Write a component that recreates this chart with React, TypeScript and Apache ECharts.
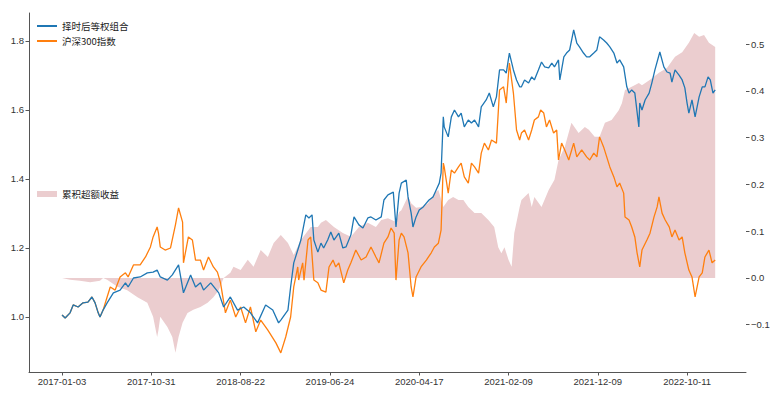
import React, { useEffect, useRef } from "react";
import * as echarts from "echarts";

const tickLabels = ["2017-01-03", "2017-10-31", "2018-08-22", "2019-06-24", "2020-04-17", "2021-02-09", "2021-12-09", "2022-10-11"];
const tickDays = [0, 200, 400, 600, 800, 1000, 1200, 1400];
const leftTicks = [1.0, 1.2, 1.4, 1.6, 1.8];
const rightTicks = [-0.1, 0, 0.1, 0.2, 0.3, 0.4, 0.5];

const seriesNames = ["择时后等权组合", "沪深300指数", "累积超额收益"];

// [trading day index, net value]
const blueSeries: [number, number][] = [
  [0, 1.006], [7, 0.997], [18, 1.012], [25, 1.035], [36, 1.029], [47, 1.041], [58, 1.043], [67, 1.058],
  [74, 1.041], [81, 1.012], [85, 1.0], [92, 1.02], [101, 1.041], [115, 1.07], [130, 1.078], [142, 1.099],
  [148, 1.087], [160, 1.113], [175, 1.116], [191, 1.128], [204, 1.13], [213, 1.136], [220, 1.116], [236, 1.107],
  [247, 1.122], [261, 1.151], [272, 1.07], [288, 1.122], [299, 1.087], [310, 1.099], [317, 1.078], [333, 1.099],
  [351, 1.07], [362, 1.029], [377, 1.058], [393, 1.02], [407, 1.029], [422, 1.012], [438, 0.983], [456, 1.035],
  [472, 1.02], [485, 0.983], [490, 0.991], [506, 1.02], [512, 1.087], [519, 1.157], [528, 1.194], [535, 1.223],
  [546, 1.296], [553, 1.287], [560, 1.296], [564, 1.223], [573, 1.188], [580, 1.214], [586, 1.2], [595, 1.223],
  [602, 1.246], [609, 1.223], [620, 1.243], [629, 1.2], [636, 1.203], [647, 1.238], [654, 1.29], [665, 1.267],
  [674, 1.258], [685, 1.287], [692, 1.29], [703, 1.281], [715, 1.29], [721, 1.339], [730, 1.354], [742, 1.362],
  [748, 1.261], [755, 1.359], [760, 1.388], [771, 1.397], [775, 1.348], [782, 1.301], [786, 1.261], [793, 1.29],
  [800, 1.31], [809, 1.319], [816, 1.33], [822, 1.339], [831, 1.348], [838, 1.368], [845, 1.388], [849, 1.417],
  [854, 1.58], [856, 1.551], [865, 1.522], [872, 1.58], [879, 1.6], [888, 1.58], [894, 1.591], [901, 1.551],
  [910, 1.571], [917, 1.562], [924, 1.571], [933, 1.551], [939, 1.609], [950, 1.629], [957, 1.649], [966, 1.609],
  [973, 1.638], [980, 1.716], [989, 1.716], [995, 1.707], [1002, 1.765], [1011, 1.716], [1018, 1.687], [1025, 1.667],
  [1029, 1.667], [1036, 1.687], [1045, 1.678], [1052, 1.696], [1058, 1.687], [1067, 1.716], [1074, 1.739], [1081, 1.725],
  [1090, 1.722], [1097, 1.736], [1103, 1.725], [1112, 1.745], [1115, 1.687], [1124, 1.754], [1130, 1.765], [1137, 1.774],
  [1146, 1.832], [1153, 1.794], [1159, 1.783], [1168, 1.765], [1175, 1.754], [1182, 1.754], [1191, 1.765], [1198, 1.774],
  [1204, 1.812], [1213, 1.803], [1220, 1.794], [1227, 1.783], [1236, 1.765], [1243, 1.736], [1249, 1.745], [1258, 1.725],
  [1265, 1.667], [1270, 1.649], [1276, 1.658], [1283, 1.649], [1292, 1.551], [1294, 1.62], [1299, 1.6], [1306, 1.629],
  [1315, 1.649], [1321, 1.678], [1328, 1.716], [1339, 1.768], [1348, 1.725], [1355, 1.71], [1362, 1.707], [1366, 1.681],
  [1373, 1.716], [1382, 1.701], [1389, 1.687], [1395, 1.664], [1400, 1.62], [1404, 1.591], [1411, 1.629], [1418, 1.58],
  [1427, 1.638], [1434, 1.667], [1440, 1.667], [1447, 1.696], [1452, 1.687], [1458, 1.649], [1463, 1.658],
];

const orangeSeries: [number, number][] = [
  [0, 1.006], [7, 0.997], [18, 1.012], [25, 1.035], [36, 1.029], [47, 1.041], [58, 1.043], [67, 1.058],
  [74, 1.041], [81, 1.012], [85, 1.0], [92, 1.02], [101, 1.058], [108, 1.087], [119, 1.078], [130, 1.116],
  [142, 1.128], [148, 1.116], [160, 1.151], [175, 1.151], [187, 1.174], [198, 1.203], [204, 1.232], [213, 1.261],
  [216, 1.243], [220, 1.203], [231, 1.194], [243, 1.2], [254, 1.267], [261, 1.316], [270, 1.275], [272, 1.157],
  [283, 1.232], [292, 1.223], [299, 1.165], [310, 1.165], [317, 1.136], [328, 1.174], [339, 1.145], [348, 1.13],
  [355, 1.099], [366, 1.012], [377, 1.049], [389, 1.0], [400, 1.029], [411, 0.983], [422, 1.029], [434, 0.957],
  [445, 0.991], [461, 0.962], [479, 0.925], [490, 0.896], [501, 0.942], [512, 1.0], [519, 1.087], [528, 1.145],
  [530, 1.107], [539, 1.157], [542, 1.107], [551, 1.223], [557, 1.232], [564, 1.107], [573, 1.099], [580, 1.078],
  [591, 1.072], [598, 1.145], [607, 1.165], [613, 1.145], [620, 1.157], [631, 1.099], [640, 1.136], [647, 1.157],
  [658, 1.194], [670, 1.165], [681, 1.174], [692, 1.203], [703, 1.174], [710, 1.157], [721, 1.214], [730, 1.232],
  [737, 1.258], [744, 1.243], [748, 1.107], [755, 1.223], [760, 1.243], [766, 1.232], [775, 1.186], [782, 1.087],
  [786, 1.058], [793, 1.116], [804, 1.145], [816, 1.165], [827, 1.186], [834, 1.203], [843, 1.214], [849, 1.252],
  [854, 1.446], [856, 1.435], [865, 1.359], [872, 1.426], [879, 1.417], [888, 1.435], [894, 1.446], [901, 1.406],
  [910, 1.388], [917, 1.446], [924, 1.435], [933, 1.417], [939, 1.475], [946, 1.504], [955, 1.484], [962, 1.513],
  [973, 1.504], [980, 1.658], [989, 1.667], [995, 1.62], [1002, 1.736], [1011, 1.649], [1018, 1.542], [1025, 1.513],
  [1029, 1.533], [1036, 1.542], [1045, 1.513], [1052, 1.542], [1058, 1.571], [1067, 1.58], [1072, 1.6], [1079, 1.591],
  [1085, 1.551], [1092, 1.571], [1101, 1.533], [1108, 1.542], [1112, 1.455], [1119, 1.504], [1126, 1.484], [1135, 1.455],
  [1146, 1.504], [1153, 1.464], [1164, 1.484], [1175, 1.464], [1182, 1.455], [1191, 1.475], [1198, 1.464], [1204, 1.522],
  [1213, 1.493], [1220, 1.464], [1227, 1.435], [1236, 1.406], [1243, 1.377], [1249, 1.388], [1258, 1.359], [1261, 1.29],
  [1270, 1.281], [1276, 1.261], [1283, 1.232], [1288, 1.186], [1294, 1.145], [1299, 1.194], [1310, 1.223], [1317, 1.243],
  [1326, 1.29], [1333, 1.319], [1337, 1.348], [1344, 1.301], [1351, 1.281], [1360, 1.261], [1366, 1.232], [1373, 1.252],
  [1382, 1.223], [1389, 1.232], [1395, 1.186], [1404, 1.136], [1411, 1.116], [1418, 1.058], [1427, 1.116], [1434, 1.128],
  [1440, 1.174], [1449, 1.194], [1456, 1.157], [1463, 1.165],
];

const excessSeries: [number, number][] = [
  [0, 0], [18, -0.004], [40, -0.006], [63, -0.009], [85, -0.006], [92, 0], [101, -0.004], [124, -0.019],
  [146, -0.026], [169, -0.041], [191, -0.053], [204, -0.083], [213, -0.126], [216, -0.111], [220, -0.083], [236, -0.105],
  [247, -0.126], [254, -0.16], [261, -0.126], [270, -0.096], [281, -0.075], [294, -0.068], [310, -0.062], [326, -0.053],
  [339, -0.041], [351, -0.026], [362, 0], [377, 0.011], [384, 0.024], [400, 0.017], [416, 0.039], [429, 0.024],
  [445, 0.06], [461, 0.045], [474, 0.075], [490, 0.092], [506, 0.075], [519, 0.049], [535, 0.081], [557, 0.109],
  [573, 0.109], [580, 0.118], [591, 0.124], [609, 0.109], [629, 0.096], [647, 0.088], [665, 0.109], [685, 0.118],
  [703, 0.109], [715, 0.124], [730, 0.128], [748, 0.12], [755, 0.141], [760, 0.145], [775, 0.175], [782, 0.16],
  [793, 0.15], [804, 0.152], [820, 0.16], [834, 0.182], [843, 0.188], [854, 0.152], [865, 0.167], [876, 0.173],
  [888, 0.167], [899, 0.167], [910, 0.152], [924, 0.139], [939, 0.139], [955, 0.124], [968, 0.109], [977, 0.066],
  [984, 0.053], [991, 0.066], [1000, 0.039], [1007, 0.024], [1013, 0.096], [1025, 0.152], [1029, 0.167], [1045, 0.182],
  [1052, 0.152], [1058, 0.173], [1074, 0.152], [1090, 0.188], [1103, 0.21], [1112, 0.252], [1126, 0.28], [1141, 0.332],
  [1157, 0.31], [1171, 0.323], [1180, 0.317], [1193, 0.302], [1204, 0.302], [1216, 0.332], [1231, 0.338], [1247, 0.359],
  [1254, 0.374], [1261, 0.402], [1276, 0.409], [1292, 0.417], [1299, 0.412], [1317, 0.424], [1337, 0.439], [1355, 0.449],
  [1373, 0.473], [1389, 0.483], [1404, 0.503], [1416, 0.524], [1427, 0.516], [1438, 0.52], [1449, 0.503], [1463, 0.494],
];

const BLUE = "#1f77b4";
const ORANGE = "#ff7f0e";
const PINK = "#ebcdcf";
const AXIS = "#555555";
const LABEL = "#333333";
const NUM_FONT = "Liberation Sans";
const CJK_FONT = "Noto Sans CJK SC";

export default function App() {
  const ref = useRef<HTMLDivElement>(null);

  useEffect(() => {
    if (!ref.current) return;
    const chart = echarts.init(ref.current, null, { renderer: "svg" });
    const labelStyle = { color: LABEL, fontSize: 9.5, fontFamily: NUM_FONT };
    chart.setOption({
      animation: false,
      backgroundColor: "#ffffff",
      grid: { left: 29, right: 28, top: 13, bottom: 21, containLabel: false, outerBoundsMode: "none" },
      legend: [
        {
          data: [seriesNames[0], seriesNames[1]],
          orient: "vertical",
          left: 37,
          top: 20,
          padding: 0,
          itemGap: 3,
          itemWidth: 20,
          itemHeight: 2,
          icon: "rect",
          textStyle: { color: "#222", fontSize: 9.5, fontFamily: CJK_FONT, lineHeight: 12 },
        },
        {
          data: [seriesNames[2]],
          orient: "vertical",
          left: 37,
          top: 188,
          padding: 0,
          itemWidth: 20,
          itemHeight: 6,
          icon: "rect",
          textStyle: { color: "#222", fontSize: 9.5, fontFamily: CJK_FONT, lineHeight: 12 },
        },
      ],
      xAxis: {
        type: "value",
        min: -74,
        max: 1532,
        splitLine: { show: false },
        axisLine: { show: true, onZero: false, lineStyle: { color: AXIS, width: 1 } },
        axisTick: { show: true, length: 3.5, customValues: tickDays, lineStyle: { color: AXIS } },
        axisLabel: {
          ...labelStyle,
          margin: 4,
          customValues: tickDays,
          formatter: (v: number) => tickLabels[tickDays.indexOf(Math.round(v))] ?? "",
        },
      },
      yAxis: [
        {
          type: "value",
          position: "left",
          min: 0.8406,
          max: 1.881,
          splitLine: { show: false },
          axisLine: { show: true, onZero: false, lineStyle: { color: AXIS, width: 1 } },
          axisTick: { show: true, length: 3.5, customValues: leftTicks, lineStyle: { color: AXIS } },
          axisLabel: {
            ...labelStyle,
            margin: 5,
            customValues: leftTicks,
            formatter: (v: number) => v.toFixed(1),
          },
        },
        {
          type: "value",
          position: "right",
          min: -0.2011,
          max: 0.5668,
          splitLine: { show: false },
          axisLine: { show: false, onZero: false },
          axisTick: { show: true, length: 3.5, customValues: rightTicks, lineStyle: { color: AXIS } },
          axisLabel: {
            ...labelStyle,
            margin: 5,
            customValues: rightTicks,
            formatter: (v: number) => (v < 0 ? "\u2212" + Math.abs(v).toFixed(1) : v.toFixed(1)),
          },
        },
      ],
      series: [
        {
          name: seriesNames[2],
          type: "line",
          yAxisIndex: 1,
          data: excessSeries,
          showSymbol: false,
          symbol: "none",
          color: PINK,
          lineStyle: { width: 0, color: PINK },
          areaStyle: { color: PINK, opacity: 1, origin: 0 },
          z: 1,
        },
        {
          name: seriesNames[0],
          type: "line",
          yAxisIndex: 0,
          data: blueSeries,
          showSymbol: false,
          symbol: "none",
          color: BLUE,
          lineStyle: { width: 1.3, color: BLUE },
          z: 3,
        },
        {
          name: seriesNames[1],
          type: "line",
          yAxisIndex: 0,
          data: orangeSeries,
          showSymbol: false,
          symbol: "none",
          color: ORANGE,
          lineStyle: { width: 1.3, color: ORANGE },
          z: 2,
        },
      ],
    });
    return () => chart.dispose();
  }, []);

  return (
    <div
      ref={ref}
      style={{ position: "fixed", left: 0, top: 0, width: 774, height: 393, background: "#fff" }}
    />
  );
}
